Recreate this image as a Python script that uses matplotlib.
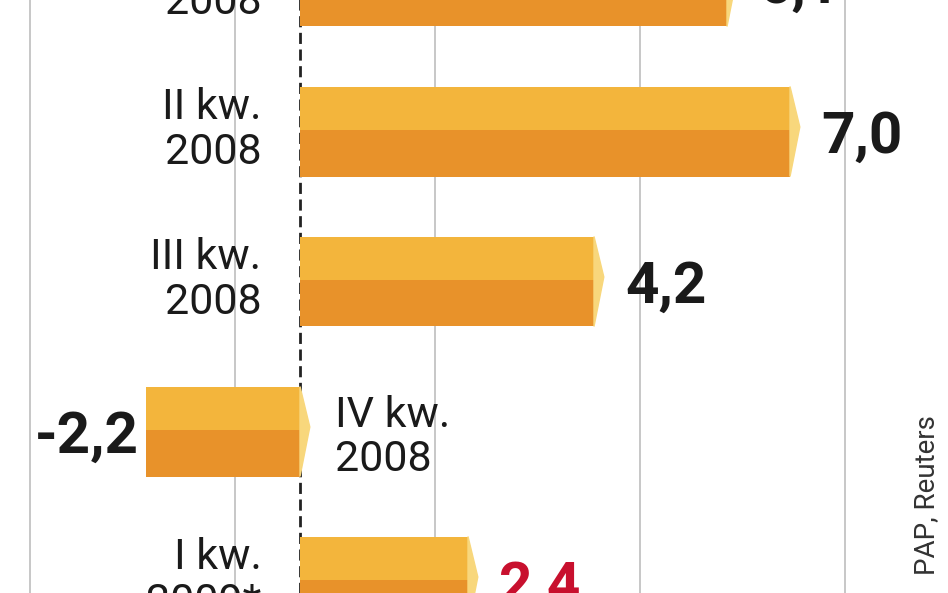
import matplotlib
matplotlib.use("Agg")
import matplotlib.pyplot as plt
from matplotlib.patches import Polygon

categories = ["I kw.\n2008", "II kw.\n2008", "III kw.\n2008", "IV kw.\n2008", "I kw.\n2009*"]
values = [6.1, 7.0, 4.2, -2.2, 2.4]
value_labels = ["6,1", "7,0", "4,2", "-2,2", "2,4"]
value_colors = ["#1a1a1a", "#1a1a1a", "#1a1a1a", "#1a1a1a", "#c8102e"]
grid_x = [-3.86, -0.93, 1.93, 4.86, 7.79]

fig = plt.figure(figsize=(9.48, 5.93), dpi=100)
ax = fig.add_axes([0, 0, 1, 1])
ax.set_xlim(-300/70, 648/70)
ax.set_ylim((593+20)/150, 20/150)
ax.axis("off")

for gx in grid_x:
    ax.axvline(gx, color="#bdbdbd", lw=1.2, zorder=0)
ax.plot([0, 0], [0, 4.1], color="#222", lw=2, ls=(0, (4, 2)), zorder=1)

light, dark, cap = "#f3b53c", "#e8922a", "#f8d77c"
h1, h2, tip = 0.29, 0.31, 0.2
font = "Roboto"
for i, (v, lab, vl, vc) in enumerate(zip(values, categories, value_labels, value_colors)):
    y = i
    ax.barh(y - h1/2, v, height=h1, color=light, zorder=2)
    ax.barh(y + h2/2, v, height=h2, color=dark, zorder=2)
    end = v if v >= 0 else 0
    ax.add_patch(Polygon([[end, y - h1], [end + tip*0.7, y - 0.02], [end, y + h2]],
                         closed=True, color=cap, zorder=3))
    if v >= 0:
        ax.text(-0.55, y, lab, ha="right", va="center", fontsize=31, family=font,
                color="#1a1a1a", linespacing=1.1)
        ax.text(v + 0.45, y + 0.05, vl, ha="left", va="center", fontsize=42,
                fontweight="bold", family=font, color=vc)
    else:
        ax.text(0.5, y + 0.05, lab, ha="left", va="center", fontsize=31, family=font,
                color="#1a1a1a", linespacing=1.1)
        ax.text(v - 0.1, y + 0.05, vl, ha="right", va="center", fontsize=42,
                fontweight="bold", family=font, color=vc)

ax.text(0.977, 0.03, "PAP, Reuters", transform=ax.transAxes, rotation=90,
        ha="center", va="bottom", fontsize=20, family=font, color="#333")

fig.savefig("out.png", dpi=100, facecolor="white")
